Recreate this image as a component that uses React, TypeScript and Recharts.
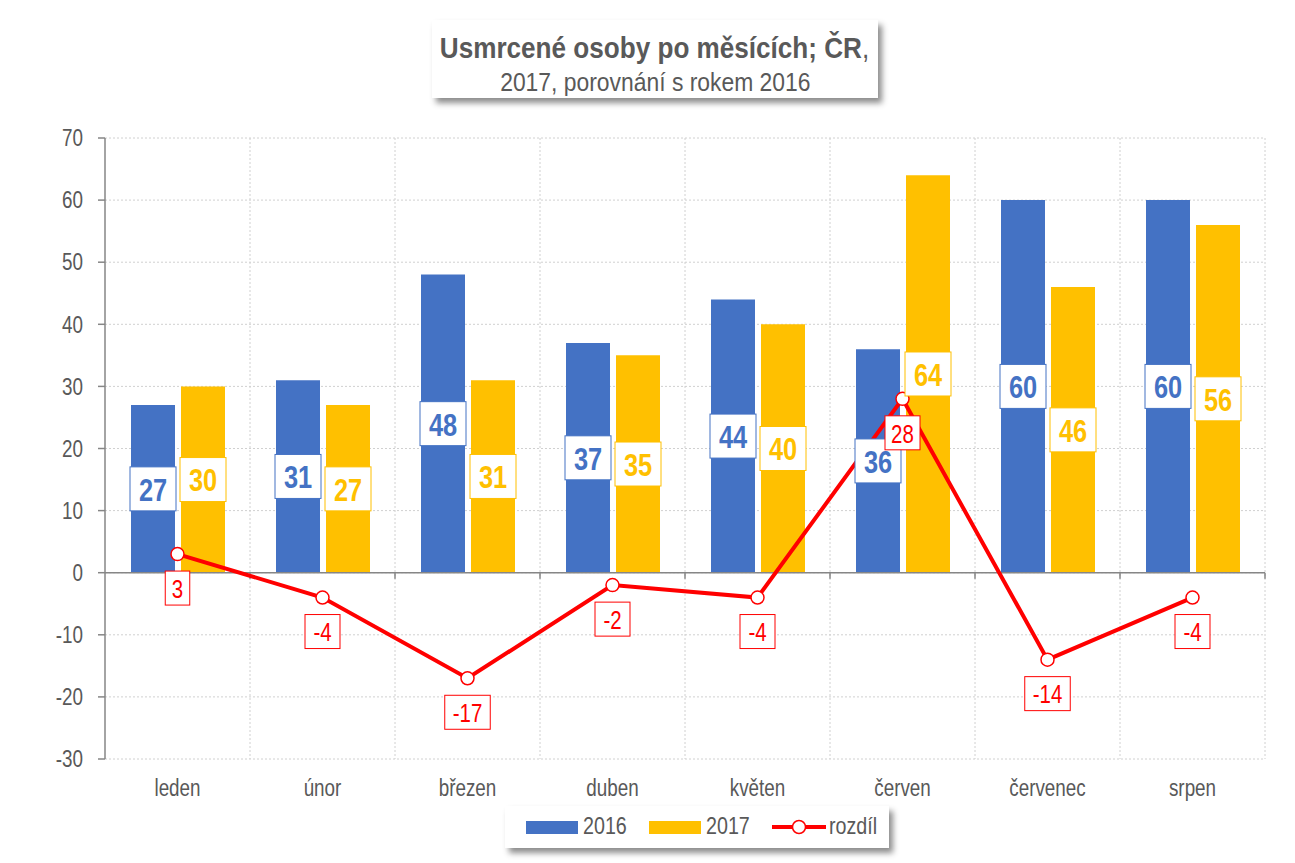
import React from "react";
import {
  ComposedChart,
  Bar,
  Line,
  XAxis,
  YAxis,
  CartesianGrid,
  LabelList,
  ReferenceLine,
} from "recharts";

const months = ["leden", "únor", "březen", "duben", "květen", "červen", "červenec", "srpen"];
const deaths2016 = [27, 31, 48, 37, 44, 36, 60, 60];
const deaths2017 = [30, 27, 31, 35, 40, 64, 46, 56];
const difference = [3, -4, -17, -2, -4, 28, -14, -4];
const yTicks = [-30, -20, -10, 0, 10, 20, 30, 40, 50, 60, 70];

const data = months.map((m, i) => ({
  month: m,
  y2016: deaths2016[i],
  y2017: deaths2017[i],
  diff: difference[i],
}));

// no Arial Narrow here, so squeeze Liberation Sans horizontally
const FONT = "'Liberation Sans', Arial, sans-serif";
const NARROW = 0.82;
const BLUE = "#4472C4";
const YELLOW = "#FFC000";
const RED = "#FF0000";
const GREY = "#595959";

const NarrowText = ({ x, y, anchor = "middle", size, color, bold = false, children }: any) => (
  <g transform={`translate(${x},${y})`}>
    <text
      transform={`scale(${NARROW},1)`}
      textAnchor={anchor}
      dominantBaseline="central"
      fill={color}
      fontFamily={FONT}
      fontWeight={bold ? "bold" : "normal"}
      fontSize={size}
    >
      {children}
    </text>
  </g>
);

const xTick = (props: any) => (
  <NarrowText x={props.x} y={props.y + 10} size={23} color={GREY}>
    {props.payload.value}
  </NarrowText>
);

const yTick = (props: any) => (
  <NarrowText x={props.x} y={props.y} anchor="end" size={23} color={GREY}>
    {props.payload.value}
  </NarrowText>
);

const barLabel = (color: string) => (props: any) => {
  const { x, y, width, height, value } = props;
  const cx = x + width / 2;
  const cy = y + height / 2;
  return (
    <g>
      <rect x={cx - 23} y={cy - 22} width={46} height={44} fill="#fff" stroke={color} strokeWidth={1} />
      <NarrowText x={cx} y={cy + 1} size={31} color={color} bold>
        {value}
      </NarrowText>
    </g>
  );
};

const lineLabel = (props: any) => {
  const { x, y, value } = props;
  const w = String(value).length * 10.5 + 14;
  const cy = y + 34;
  return (
    <g>
      <rect x={x - w / 2} y={cy - 17} width={w} height={34} fill="#fff" stroke={RED} strokeWidth={1} />
      <NarrowText x={x} y={cy + 1} size={25} color={RED}>
        {value}
      </NarrowText>
    </g>
  );
};

const zeroAxis = (props: any) => {
  const { x1, x2, y1 } = props;
  const step = (x2 - x1) / months.length;
  return (
    <g>
      <line x1={x1} x2={x2} y1={y1} y2={y1} stroke="#868686" strokeWidth={1.5} />
      {months.map((_, i) => (
        <line key={i} x1={x1 + step * (i + 1)} x2={x1 + step * (i + 1)} y1={y1} y2={y1 + 6} stroke="#868686" strokeWidth={1.5} />
      ))}
    </g>
  );
};

const shadowBox: React.CSSProperties = {
  position: "absolute",
  background: "#fff",
  boxShadow: "4px 5px 6px rgba(0,0,0,0.45)",
  fontFamily: FONT,
  color: GREY,
};

const squeeze = (k: number): React.CSSProperties => ({
  display: "inline-block",
  transform: `scaleX(${k})`,
  whiteSpace: "nowrap",
  flexShrink: 0,
});

const centredRow: React.CSSProperties = {
  display: "flex",
  justifyContent: "center",
};

const legendText: React.CSSProperties = {
  ...squeeze(NARROW),
  position: "absolute",
  top: 6,
  transformOrigin: "left center",
};

export default function App() {
  return (
    <div style={{ position: "absolute", left: 0, top: 0, width: 1295, height: 863, background: "#fff" }}>
      <ComposedChart
        width={1295}
        height={863}
        data={data}
        margin={{ top: 138, right: 30, bottom: 54, left: 0 }}
        barGap={6}
      >
        <CartesianGrid
          stroke="#d0d0d0"
          strokeDasharray="2 2"
          verticalCoordinatesGenerator={({ offset }: any) =>
            months.map((_, i) => offset.left + ((i + 1) * offset.width) / months.length)
          }
        />
        <XAxis
          dataKey="month"
          axisLine={false}
          tickLine={false}
          tickSize={0}
          tickMargin={19}
          height={50}
          tick={xTick}
        />
        <YAxis
          domain={[-30, 70]}
          ticks={yTicks}
          width={105}
          tickSize={7}
          tickMargin={15}
          interval={0}
          axisLine={{ stroke: "#868686", strokeWidth: 1.5 }}
          tickLine={{ stroke: "#868686", strokeWidth: 1.5 }}
          tick={yTick}
        />
        <ReferenceLine y={0} shape={zeroAxis} />
        <Bar dataKey="y2016" fill={BLUE} barSize={44} isAnimationActive={false}>
          <LabelList dataKey="y2016" content={barLabel(BLUE)} />
        </Bar>
        <Bar dataKey="y2017" fill={YELLOW} barSize={44} isAnimationActive={false}>
          <LabelList dataKey="y2017" content={barLabel(YELLOW)} />
        </Bar>
        <Line
          dataKey="diff"
          stroke={RED}
          strokeWidth={4}
          dot={{ r: 6.5, fill: "#fff", stroke: RED, strokeWidth: 1.5 }}
          isAnimationActive={false}
        >
          <LabelList dataKey="diff" content={lineLabel} />
        </Line>
      </ComposedChart>

      <div style={{ ...shadowBox, left: 432, top: 20, width: 446, height: 78 }}>
        <div style={{ ...centredRow, fontSize: 29, fontWeight: "bold", lineHeight: "32px", marginTop: 12 }}>
          <span style={squeeze(0.9)}>
            Usmrcené osoby po měsících; ČR<span style={{ fontWeight: "normal" }}>,</span>
          </span>
        </div>
        <div style={{ ...centredRow, fontSize: 26, lineHeight: "28px", marginTop: 4 }}>
          <span style={squeeze(0.88)}>2017, porovnání s rokem 2016</span>
        </div>
      </div>

      <div style={{ ...shadowBox, left: 505, top: 806, width: 384, height: 42, fontSize: 24 }}>
        <span style={{ position: "absolute", left: 21, top: 15, width: 52, height: 13, background: BLUE }} />
        <span style={{ ...legendText, left: 78 }}>2016</span>
        <span style={{ position: "absolute", left: 144, top: 15, width: 52, height: 13, background: YELLOW }} />
        <span style={{ ...legendText, left: 201 }}>2017</span>
        <svg width={56} height={20} style={{ position: "absolute", left: 266, top: 11 }}>
          <line x1={1} x2={55} y1={10} y2={10} stroke={RED} strokeWidth={4} />
          <circle cx={28} cy={10} r={6.5} fill="#fff" stroke={RED} strokeWidth={1.5} />
        </svg>
        <span style={{ ...legendText, left: 324 }}>rozdíl</span>
      </div>
    </div>
  );
}
